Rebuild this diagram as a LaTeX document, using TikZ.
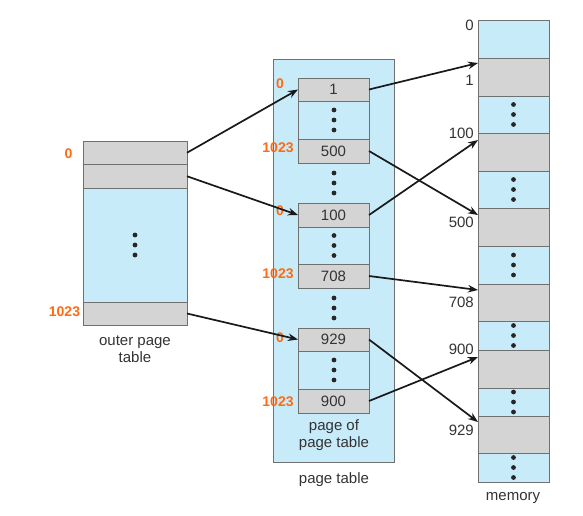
\documentclass[tikz,border=0pt]{standalone}
\usepackage{fontspec}
\setmainfont{Liberation Sans}
\usetikzlibrary{arrows.meta}
\definecolor{lblue}{HTML}{C8EBFA}
\definecolor{lgray}{HTML}{D4D4D4}
\definecolor{edgec}{HTML}{707070}
\definecolor{txt}{HTML}{333333}
\definecolor{orng}{HTML}{FF6A13}
\tikzset{
  cell/.style={draw=edgec, line width=0.8pt, anchor=north west, inner sep=0pt, outer sep=0pt,
    text=txt, font=\fontsize{15}{17}\selectfont},
  graycell/.style={cell, fill=lgray},
  bluecell/.style={cell, fill=lblue},
  olabel/.style={text=orng, font=\fontsize{14}{16}\selectfont\bfseries, inner sep=0pt},
  mlabel/.style={text=txt, font=\fontsize{15}{17}\selectfont, anchor=east, inner sep=0pt},
  captext/.style={text=txt, font=\fontsize{15}{17}\selectfont, align=center, inner sep=0pt},
  arr/.style={line width=1.7pt, draw=black!90, -{Stealth[length=10pt,width=7.5pt]}},
  dotc/.style={fill=black!85}
}
\begin{document}
\begin{tikzpicture}[x=1pt,y=-1pt]
\useasboundingbox (0,0) rectangle (583,516);
% outer page table
\node[graycell, minimum width=104pt, minimum height=23.5pt] (o0) at (83,141) {};
\node[graycell, minimum width=104pt, minimum height=23.5pt] (o1) at (83,164.5) {};
\node[bluecell, minimum width=104pt, minimum height=114pt] (omid) at (83,188) {};
\node[graycell, minimum width=104pt, minimum height=23pt] (o1023) at (83,302) {};
\foreach \yy in {235,245,255} \fill[dotc] (135,\yy) circle (2.4pt);
\node[olabel] (ol0) at (68.5,154) {0};
\node[olabel] (ol1023) at (64.5,312) {1023};
\node[captext] (outercap) at (135,349) {outer page\\table};
% page table
\node[bluecell, minimum width=121pt, minimum height=403pt] (pt) at (273,59) {};
\node[graycell, minimum width=71pt, minimum height=23pt] (p1) at (298,78) {1};
\node[bluecell, minimum width=71pt, minimum height=38pt] (b1) at (298,101) {};
\node[graycell, minimum width=71pt, minimum height=24pt] (p500) at (298,139) {500};
\node[graycell, minimum width=71pt, minimum height=24pt] (p100) at (298,203) {100};
\node[bluecell, minimum width=71pt, minimum height=37pt] (b2) at (298,227) {};
\node[graycell, minimum width=71pt, minimum height=24pt] (p708) at (298,264) {708};
\node[graycell, minimum width=71pt, minimum height=23pt] (p929) at (298,328) {929};
\node[bluecell, minimum width=71pt, minimum height=38pt] (b3) at (298,351) {};
\node[graycell, minimum width=71pt, minimum height=24pt] (p900) at (298,389) {900};
\foreach \yy in {110,120,130,173,183,193,235.5,245.5,255.5,298,308,318,360,370,380}
  \fill[dotc] (334,\yy) circle (2.4pt);
\node[olabel] (pl0a) at (280,84) {0};
\node[olabel] (pl1023a) at (278,148) {1023};
\node[olabel] (pl0b) at (280,211) {0};
\node[olabel] (pl1023b) at (278,274) {1023};
\node[olabel] (pl0c) at (280,338) {0};
\node[olabel] (pl1023c) at (278,402) {1023};
\node[captext] (popcap) at (334,435) {page of\\page table};
\node[captext] (ptcap) at (334,480) {page table};
% memory
\node[bluecell, minimum width=71pt, minimum height=38pt] (m0) at (478,20) {};
\node[graycell, minimum width=71pt, minimum height=38pt] (m1) at (478,58) {};
\node[bluecell, minimum width=71pt, minimum height=37pt] (m2) at (478,96) {};
\node[graycell, minimum width=71pt, minimum height=38pt] (m100) at (478,133) {};
\node[bluecell, minimum width=71pt, minimum height=37pt] (m4) at (478,171) {};
\node[graycell, minimum width=71pt, minimum height=38pt] (m500) at (478,208) {};
\node[bluecell, minimum width=71pt, minimum height=38pt] (m6) at (478,246) {};
\node[graycell, minimum width=71pt, minimum height=37pt] (m708) at (478,284) {};
\node[bluecell, minimum width=71pt, minimum height=29pt] (m8) at (478,321) {};
\node[graycell, minimum width=71pt, minimum height=38pt] (m900) at (478,350) {};
\node[bluecell, minimum width=71pt, minimum height=28pt] (m10) at (478,388) {};
\node[graycell, minimum width=71pt, minimum height=37pt] (m929) at (478,416) {};
\node[bluecell, minimum width=71pt, minimum height=29pt] (m12) at (478,453) {};
\foreach \m in {m2,m4,m6,m8,m10,m12}
  \foreach \d in {-10,0,10}
    \fill[dotc] ([yshift=\d pt]\m.center) circle (2.4pt);
\node[mlabel] (ml0) at (474,25) {0};
\node[mlabel] (ml1) at (474,80) {1};
\node[mlabel] (ml100) at (474,133) {100};
\node[mlabel] (ml500) at (474,222) {500};
\node[mlabel] (ml708) at (474,302) {708};
\node[mlabel] (ml900) at (474,349) {900};
\node[mlabel] (ml929) at (474,430) {929};
\node[captext] (memcap) at (513,498) {memory};
% arrows
\draw[arr] (o0.east) -- (p1.west);
\draw[arr] (o1.east) -- (p100.west);
\draw[arr] (o1023.east) -- (p929.west);
\draw[arr] (p1.east) -- ([yshift=-5pt]m1.north west);
\draw[arr] (p500.east) -- ([yshift=-7pt]m500.north west);
\draw[arr] (p100.east) -- ([yshift=-7pt]m100.north west);
\draw[arr] (p708.east) -- ([yshift=-6pt]m708.north west);
\draw[arr] (p929.east) -- ([yshift=-6pt]m929.north west);
\draw[arr] (p900.east) -- ([yshift=-7pt]m900.north west);
\end{tikzpicture}
\end{document}
